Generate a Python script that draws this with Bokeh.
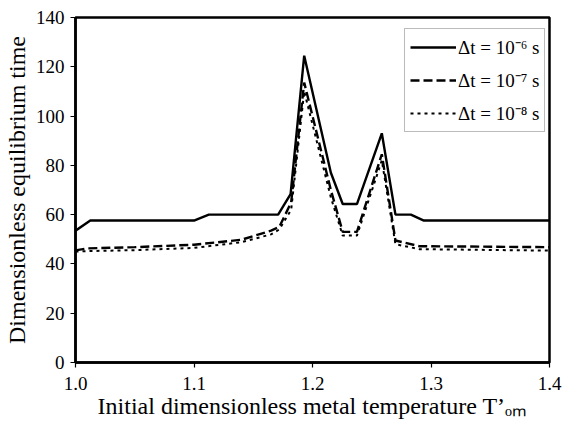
from bokeh.plotting import figure
from bokeh.models import Legend, LegendItem, Range1d, FixedTicker
from bokeh.embed import file_html
from bokeh.resources import INLINE

# Data
x_1e6 = [1.0, 1.0125, 1.10, 1.1125, 1.171, 1.1815, 1.193, 1.2155, 1.2255, 1.2375, 1.2585, 1.27, 1.283, 1.294, 1.4]
y_1e6 = [53.5, 57.6, 57.6, 60.0, 60.0, 68.3, 124.5, 77.0, 64.3, 64.3, 93.0, 60.0, 60.0, 57.6, 57.6]

x_1e7 = [1.0, 1.01, 1.05, 1.10, 1.14, 1.165, 1.172, 1.182, 1.193, 1.2155, 1.2255, 1.2375, 1.2585, 1.27, 1.29, 1.4]
y_1e7 = [45.5, 46.3, 46.8, 47.8, 49.8, 53.5, 55.0, 65.0, 113.6, 70.0, 53.0, 53.0, 84.5, 49.5, 47.2, 46.8]

x_1e8 = [1.0, 1.01, 1.05, 1.10, 1.14, 1.165, 1.172, 1.182, 1.193, 1.2155, 1.2255, 1.2375, 1.2585, 1.27, 1.29, 1.4]
y_1e8 = [45.0, 45.2, 45.6, 46.5, 48.8, 52.0, 54.0, 62.0, 110.0, 67.0, 51.5, 51.5, 82.0, 48.0, 46.0, 45.4]

labels = ["\u0394t = 10\u207b\u2076 s", "\u0394t = 10\u207b\u2077 s", "\u0394t = 10\u207b\u2078 s"]
x_ticks = [1.0, 1.1, 1.2, 1.3, 1.4]
y_ticks = [0, 20, 40, 60, 80, 100, 120, 140]

FONT = "Liberation Serif"

p = figure(width=582, height=423, output_backend="svg", toolbar_location=None,
           x_range=Range1d(1.0, 1.4), y_range=Range1d(0, 140),
           min_border_left=74, min_border_right=33, min_border_top=17, min_border_bottom=61)

p.grid.visible = False
p.outline_line_color = "black"
p.outline_line_width = 2.5
p.background_fill_color = "white"
p.border_fill_color = "white"

r1 = p.line(x_1e6, y_1e6, line_color="black", line_width=2.4)
r2 = p.line(x_1e7, y_1e7, line_color="black", line_width=2.4, line_dash="9 4")
r3 = p.line(x_1e8, y_1e8, line_color="black", line_width=2.0, line_dash="3 4")

for ax in (p.xaxis[0], p.yaxis[0]):
    ax.axis_line_color = "black"
    ax.axis_line_width = 2.5
    ax.major_tick_line_color = "black"
    ax.major_tick_line_width = 1.2
    ax.major_tick_out = 5
    ax.major_tick_in = 0
    ax.minor_tick_line_color = None
    ax.major_label_text_font = FONT
    ax.major_label_text_font_size = "19px"
    ax.major_label_text_color = "black"
    ax.axis_label_text_font = FONT
    ax.axis_label_text_font_size = "24px"
    ax.axis_label_text_font_style = "normal"
    ax.axis_label_text_color = "black"

p.xaxis[0].ticker = FixedTicker(ticks=x_ticks)
p.yaxis[0].ticker = FixedTicker(ticks=y_ticks)
p.xaxis[0].major_label_overrides = {t: f"{t:.1f}" for t in x_ticks}
p.xaxis[0].axis_label = "Initial dimensionless metal temperature T\u2019\u2092\u2098"
p.yaxis[0].axis_label = "Dimensionless equilibrium time"
p.xaxis[0].axis_label_standoff = 0
p.yaxis[0].axis_label_standoff = 3
p.xaxis[0].major_label_standoff = 9
p.yaxis[0].major_label_standoff = 6

legend = Legend(items=[LegendItem(label=labels[0], renderers=[r1]),
                       LegendItem(label=labels[1], renderers=[r2]),
                       LegendItem(label=labels[2], renderers=[r3])],
                location=(329, 230))
legend.label_text_font = FONT
legend.label_text_font_size = "19px"
legend.label_text_color = "black"
legend.border_line_color = "#777777"
legend.border_line_width = 1
legend.glyph_width = 46
legend.glyph_height = 22
legend.label_standoff = 2
legend.spacing = 7
legend.padding = 5
legend.margin = 0
legend.background_fill_alpha = 1.0
p.add_layout(legend)

open("out.html", "w").write(file_html(p, INLINE))
